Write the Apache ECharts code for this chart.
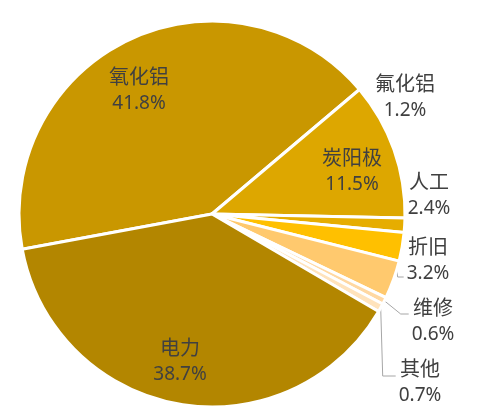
<!DOCTYPE html>
<html><head><meta charset="utf-8">
<script src="https://cdn.jsdelivr.net/npm/echarts@6/dist/echarts.min.js"></script>
<style>html,body{margin:0;padding:0;background:#fff}#c{width:492px;height:420px}</style>
</head><body><div id="c"></div>
<script>
// Data (clockwise order as drawn)
const categories = ['氧化铝','炭阳极','氟化铝','人工','折旧','维修','其他','电力'];
const values = [41.8, 11.5, 1.2, 2.4, 3.2, 0.6, 0.7, 38.7];

// Styles / layout
const colors = ['#C99700','#DDA700','#E6AD00','#FFC000','#FFC96E','#FFD8A2','#FFE3BC','#B38600'];
const labelCenters = [[139,90],[352,171],[405,97],[429,195],[428,260],[433,321],[420,382],[180,361]];
const outsideLabel = [false,false,true,true,true,true,true,false];
const showLine = [false,false,false,false,true,true,true,false];
// leader-line style: frac along slice for start, dy of horizontal run relative to label centre, horizontal run length (null = vertical drop)
const leader = {4:{frac:0.25, dy:17, run:6}, 5:{frac:0.5, dy:-7, run:8}, 6:{frac:0.5, dy:-6, run:null}};

const CX = 212, CY = 214, R = 193, START = 190.5;
const total = values.reduce((a,b)=>a+b,0);
function arcPoint(i, frac){
  let cum = 0; for (let k=0;k<i;k++) cum += values[k];
  const a = (90 - START) + 360*(cum + frac*values[i])/total; // clockwise from top, deg
  const t = a*Math.PI/180;
  return [CX + R*Math.sin(t), CY - R*Math.cos(t)];
}

const chart = echarts.init(document.getElementById('c'), null, {renderer:'canvas'});
const data = categories.map((n,i)=>({
  name:n, value:values[i],
  itemStyle:{color:colors[i]},
  label:{position: outsideLabel[i] ? 'outside' : 'inside'},
  labelLine:{show: showLine[i], lineStyle:{color:'#A6A6A6', width:1}}
}));
chart.setOption({
  animation:false,
  series:[{
    type:'pie',
    center:[CX,CY],
    radius:[0,R],
    startAngle:START,
    clockwise:true,
    avoidLabelOverlap:false,
    silent:true,
    itemStyle:{borderColor:'#fff', borderWidth:3},
    label:{
      show:true,
      formatter:p=>'{n|'+p.name+'}\n{p|'+p.value+'%}',
      fontFamily:'"Noto Sans CJK SC", "Noto Sans", sans-serif',
      color:'#404040', align:'center',
      rich:{
        n:{fontSize:20, lineHeight:28, color:'#404040', fontFamily:'"Noto Sans CJK SC", sans-serif', align:'center'},
        p:{fontSize:19, lineHeight:27, color:'#404040', fontFamily:'"Noto Sans", sans-serif', align:'center'}
      }
    },
    labelLayout:function(p){
      const i = p.dataIndex;
      const c = labelCenters[i];
      const out = {x:c[0], y:c[1], align:'center', verticalAlign:'middle'};
      const L = leader[i];
      if (L) {
        const w = p.labelRect.width;
        const left = c[0] - w/2 - 3;
        const p0 = arcPoint(i, L.frac);
        const y = c[1] + L.dy;
        const p1 = L.run == null ? [p0[0]+2, y] : [left - L.run, y];
        out.labelLinePoints = [p0, p1, [left, y]];
      }
      return out;
    },
    data:data
  }]
});
</script></body></html>
